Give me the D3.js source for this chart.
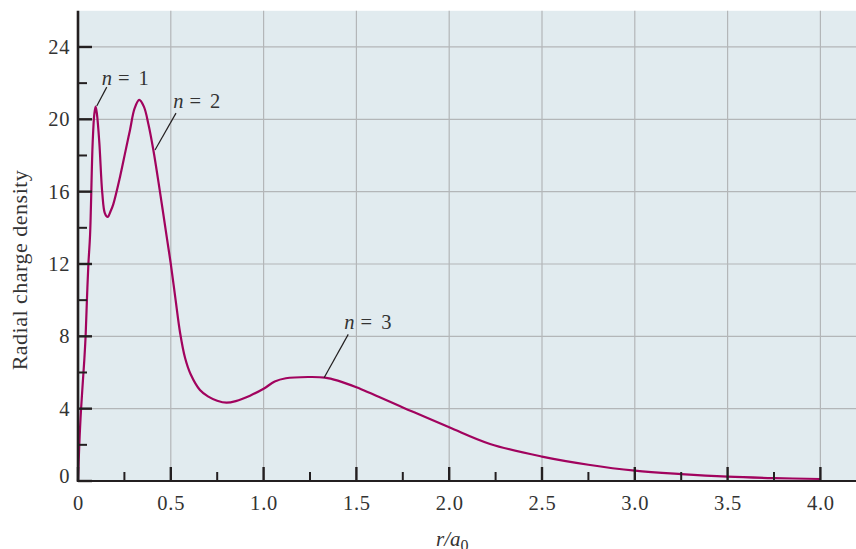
<!DOCTYPE html>
<html>
<head>
<meta charset="utf-8">
<script src="https://cdn.jsdelivr.net/npm/d3@7"></script>
<style>
  html, body { margin: 0; padding: 0; background: #ffffff; }
  svg { display: block; }
  text { font-family: "Liberation Serif", "Times New Roman", serif; fill: #333333; }
</style>
</head>
<body>
<svg id="chart" width="856" height="549"></svg>
<script>
// ---- data ----
const rValues = [0, 0.007, 0.016, 0.034, 0.041, 0.048, 0.056, 0.065, 0.079, 0.088, 0.095, 0.102, 0.115, 0.131, 0.145, 0.16, 0.175, 0.19, 0.226, 0.255, 0.28, 0.305, 0.33, 0.355, 0.38, 0.406, 0.44, 0.478, 0.5, 0.526, 0.55, 0.577, 0.607, 0.657, 0.7, 0.75, 0.8, 0.85, 0.927, 1.0, 1.06, 1.12, 1.24, 1.33, 1.4, 1.5, 1.75, 2.0, 2.22, 2.5, 2.75, 3.0, 3.25, 3.5, 3.75, 4.0];
const densityValues = [0, 2.0, 3.9, 6.7, 8.0, 10.0, 12.0, 13.6, 18.7, 20.3, 20.7, 20.3, 18.7, 15.9, 14.8, 14.6, 14.9, 15.3, 16.8, 18.2, 19.4, 20.6, 21.07, 20.7, 19.7, 18.3, 16.1, 13.5, 12.0, 10.0, 8.2, 6.8, 5.9, 5.03, 4.68, 4.44, 4.33, 4.42, 4.72, 5.1, 5.5, 5.68, 5.75, 5.72, 5.55, 5.18, 4.07, 2.97, 2.05, 1.35, 0.9, 0.57, 0.38, 0.24, 0.16, 0.11];
const xMajorTicks = [0, 0.5, 1.0, 1.5, 2.0, 2.5, 3.0, 3.5, 4.0];
const xTickLabels = ["0", "0.5", "1.0", "1.5", "2.0", "2.5", "3.0", "3.5", "4.0"];
const xMinorTicks = [0.25, 0.75, 1.25, 1.75, 2.25, 2.75, 3.25, 3.75];
const yMajorTicks = [0, 4, 8, 12, 16, 20, 24];
const yTickLabels = ["0", "4", "8", "12", "16", "20", "24"];
const yMinorTicks = [2, 6, 10, 14, 18, 22];
const annotationLabels = ["1", "2", "3"];
const annotationTextAt = [[0.128, 21.9], [0.513, 20.63], [1.435, 8.41]];
const annotationLineFrom = [[0.155, 21.78], [0.528, 20.34], [1.456, 8.11]];
const annotationLineTo = [[0.101, 20.74], [0.415, 18.3], [1.326, 5.71]];

// ---- layout ----
const svg = d3.select("#chart");
const plotLeft = 78, plotBottom = 481, plotTop = 10.8, plotRight = 856;
const x = d3.scaleLinear().domain([0, 4]).range([plotLeft, 820.4]);
const y = d3.scaleLinear().domain([0, 26]).range([plotBottom, plotTop]);

// background
svg.append("rect")
  .attr("x", plotLeft).attr("y", plotTop)
  .attr("width", plotRight - plotLeft).attr("height", plotBottom - plotTop)
  .attr("fill", "#e1ebef");

// grid
const grid = svg.append("g").attr("stroke", "#b3b6b8").attr("stroke-width", 1.2);
grid.selectAll("line.v").data(xMajorTicks.filter(d => d > 0)).join("line")
  .attr("class", "v")
  .attr("x1", d => x(d)).attr("x2", d => x(d))
  .attr("y1", plotTop).attr("y2", plotBottom);
grid.selectAll("line.h").data(yMajorTicks.filter(d => d > 0)).join("line")
  .attr("class", "h")
  .attr("x1", plotLeft).attr("x2", plotRight)
  .attr("y1", d => y(d)).attr("y2", d => y(d));

// curve
const line = d3.line()
  .x((d, i) => x(rValues[i]))
  .y((d, i) => y(densityValues[i]))
  .curve(d3.curveCatmullRom.alpha(0.5));
svg.append("path")
  .datum(densityValues)
  .attr("d", line)
  .attr("fill", "none")
  .attr("stroke", "#a1035e")
  .attr("stroke-width", 2.2)
  .attr("stroke-linejoin", "round");

// axes
const axisColor = "#231f20";
const ax = svg.append("g").attr("stroke", axisColor);
ax.append("line").attr("x1", plotLeft).attr("x2", plotLeft).attr("y1", plotTop).attr("y2", plotBottom + 1)
  .attr("stroke-width", 2.6);
ax.append("line").attr("x1", plotLeft - 1).attr("x2", plotRight).attr("y1", plotBottom).attr("y2", plotBottom)
  .attr("stroke-width", 2.2);

// y ticks
ax.selectAll("line.ymaj").data(yMajorTicks).join("line")
  .attr("class", "ymaj")
  .attr("x1", plotLeft).attr("x2", plotLeft + 14)
  .attr("y1", d => y(d)).attr("y2", d => y(d)).attr("stroke-width", 2.4);
ax.selectAll("line.ymin").data(yMinorTicks).join("line")
  .attr("class", "ymin")
  .attr("x1", plotLeft).attr("x2", plotLeft + 9)
  .attr("y1", d => y(d)).attr("y2", d => y(d)).attr("stroke-width", 2.0);
// x ticks
ax.selectAll("line.xmaj").data(xMajorTicks).join("line")
  .attr("class", "xmaj")
  .attr("x1", d => x(d)).attr("x2", d => x(d))
  .attr("y1", plotBottom).attr("y2", plotBottom - 14).attr("stroke-width", 2.4);
ax.selectAll("line.xmin").data(xMinorTicks).join("line")
  .attr("class", "xmin")
  .attr("x1", d => x(d)).attr("x2", d => x(d))
  .attr("y1", plotBottom).attr("y2", plotBottom - 9).attr("stroke-width", 2.0);

// tick labels
svg.append("g").selectAll("text").data(yMajorTicks).join("text")
  .attr("x", 70)
  .attr("y", d => y(d) + (d === 0 ? -5 : 0))
  .attr("dy", "0.34em")
  .attr("text-anchor", "end")
  .attr("font-size", 20.5)
  .attr("letter-spacing", 0.6)
  .text((d, i) => yTickLabels[i]);
svg.append("g").selectAll("text").data(xMajorTicks).join("text")
  .attr("x", d => x(d) + 0.5)
  .attr("y", 510)
  .attr("text-anchor", "middle")
  .attr("font-size", 20.5)
  .attr("letter-spacing", 0.8)
  .text((d, i) => xTickLabels[i]);

// axis titles
svg.append("text")
  .attr("transform", "translate(27,270) rotate(-90)")
  .attr("text-anchor", "middle")
  .attr("font-size", 22)
  .attr("letter-spacing", 0.5)
  .text("Radial charge density");
const xt = svg.append("text")
  .attr("x", 436).attr("y", 546)
  .attr("font-size", 21);
xt.append("tspan").attr("font-style", "italic").text("r/a");
xt.append("tspan").attr("font-size", 16).attr("dy", 5).text("0");

// annotations
const ann = svg.append("g");
annotationLabels.forEach((lab, i) => {
  ann.append("line")
    .attr("x1", x(annotationLineFrom[i][0])).attr("y1", y(annotationLineFrom[i][1]))
    .attr("x2", x(annotationLineTo[i][0])).attr("y2", y(annotationLineTo[i][1]))
    .attr("stroke", "#231f20").attr("stroke-width", 1.2);
  const t = ann.append("text")
    .attr("x", x(annotationTextAt[i][0])).attr("y", y(annotationTextAt[i][1]))
    .attr("font-size", 20.5);
  t.append("tspan").attr("font-style", "italic").text("n");
  t.append("tspan").attr("dx", 6).text("=");
  t.append("tspan").attr("dx", 9).text(lab);
});
</script>
</body>
</html>
